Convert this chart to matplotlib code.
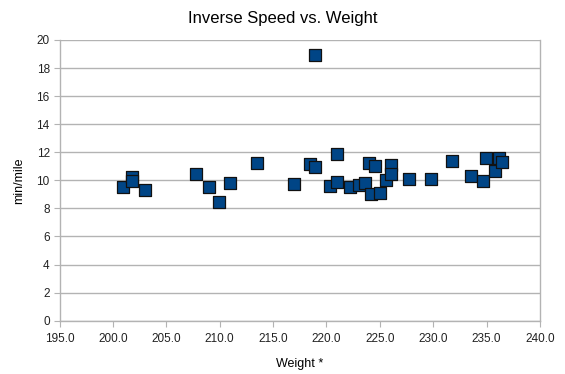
import matplotlib
matplotlib.use("Agg")
import matplotlib.pyplot as plt
from matplotlib.ticker import MultipleLocator, FormatStrFormatter

weight = [200.97, 201.76, 201.76, 203.0, 207.78, 208.97, 209.96, 210.96, 213.46,
          216.96, 218.46, 218.95, 218.92, 220.96, 220.33, 220.96, 222.2, 223.07,
          223.6, 223.95, 224.57, 224.17, 225.0, 225.54, 226.0, 226.0, 227.75,
          229.76, 231.78, 233.56, 234.63, 234.96, 235.78, 236.12, 236.4]
min_per_mile = [9.55, 10.26, 9.98, 9.32, 10.46, 9.55, 8.48, 9.84, 11.22,
                9.72, 11.15, 10.93, 18.94, 11.86, 9.62, 9.86, 9.55, 9.65,
                9.84, 11.22, 11.03, 9.03, 9.1, 10.0, 11.1, 10.43, 10.12,
                10.08, 11.38, 10.31, 9.98, 11.58, 10.67, 11.6, 11.29]

title = "Inverse Speed vs. Weight"
xlabel = "Weight *"
ylabel = "min/mile"

plt.rcParams['font.family'] = ['Liberation Sans', 'DejaVu Sans']

fig = plt.figure(figsize=(5.65, 3.74), dpi=100)
ax = fig.add_axes([59.5/565, 1-320.7/374, (540-59.5)/565, (320.7-40)/374])

grid_c = '#b3b3b3'
ax.scatter(weight, min_per_mile, marker='s', s=70, c='#004586',
           edgecolors='#111111', linewidths=0.9, zorder=3)

ax.set_xlim(195, 240)
ax.set_ylim(0, 20)
ax.xaxis.set_major_locator(MultipleLocator(5))
ax.xaxis.set_major_formatter(FormatStrFormatter('%.1f'))
ax.yaxis.set_major_locator(MultipleLocator(2))
ax.yaxis.grid(True, color=grid_c, linewidth=1)
ax.set_axisbelow(True)
for s in ['left', 'bottom', 'right']:
    ax.spines[s].set_color(grid_c)
    ax.spines[s].set_linewidth(1)
ax.spines['top'].set_visible(False)
ax.tick_params(axis='both', direction='out', length=4, color=grid_c,
               labelsize=8.5, labelcolor='#222222')
ax.tick_params(axis='x', pad=5)
ax.tick_params(axis='y', pad=3)

ax.set_xlabel(xlabel, fontsize=9, labelpad=9)
ax.set_ylabel(ylabel, fontsize=9, labelpad=8)
fig.text(0.5, 1-18/374, title, ha='center', va='center', fontsize=12)

fig.savefig("out.png", dpi=100)
